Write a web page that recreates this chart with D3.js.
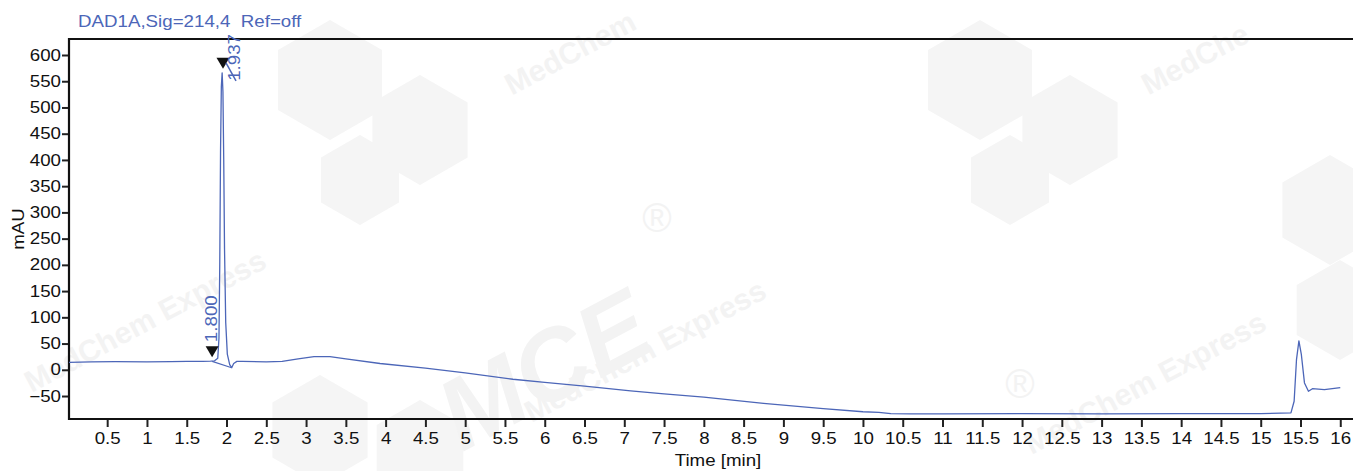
<!DOCTYPE html>
<html>
<head>
<meta charset="utf-8">
<script src="https://cdn.jsdelivr.net/npm/d3@7"></script>
<style>
  body { margin: 0; background: #fff; }
  svg text { font-family: "Liberation Sans", Arial, sans-serif; }
</style>
</head>
<body>
<div id="chart"></div>
<script>
// chromatogram trace (time in min, signal in mAU)
var times = [0.02, 0.3, 0.6, 1.0, 1.3, 1.5, 1.7, 1.8, 1.85, 1.89, 1.905, 1.915, 1.925, 1.935, 1.945,
  1.955, 1.965, 1.975, 1.99, 2.01, 2.04, 2.065, 2.09, 2.13, 2.2, 2.5, 2.7, 2.9, 3.1, 3.3, 3.5,
  3.93, 4.5, 5.0, 5.6, 6.0, 6.5, 7.08, 7.5, 8.0, 8.75, 9.5, 10.0, 10.2, 10.35, 10.6, 11, 12, 13,
  14, 15, 15.38, 15.42, 15.45, 15.48, 15.51, 15.55, 15.6, 15.65, 15.8, 16.0];
var signal = [14, 15, 15.5, 15, 15.5, 16, 16, 16.5, 17, 22, 60, 200, 420, 540, 566,
  530, 400, 230, 90, 30, 10, 4, 12, 16, 16, 15, 16, 21, 25, 25, 21,
  12, 3, -6, -18, -24, -31, -40, -46, -52, -64, -74, -80, -81, -83.5, -84, -84, -83.5, -84,
  -83.5, -83.5, -82, -60, 20, 55, 30, -25, -41, -36, -38, -34];

var peakTimes = [1.800, 1.937];
var peakLabels = ['1.800', '1.937'];
var peakHeights = [16.5, 566];
var baselineStart = [1.82, 16];
var baselineEnd = [2.065, 4];

var xTicks = d3.range(0.5, 16.01, 0.5);
var xTickLabels = xTicks.map(function (d) { return d3.format('~g')(d); });
var yTicks = d3.range(-50, 601, 50);

var W = 1353, H = 471;
var pl = 69, pr = 1353, pt = 39, pb = 419;
var blue = '#4c66b8';
var sx = 1.17; // the original text is drawn a bit wide

var svg = d3.select('#chart').append('svg')
  .attr('width', W)
  .attr('height', H);

// faint watermark
var wm = svg.append('g').attr('fill', '#f3f3f3');
function hex(cx, cy, r) {
  var pts = d3.range(6).map(function (i) {
    var a = Math.PI / 3 * i + Math.PI / 6;
    return [cx + r * Math.cos(a), cy + r * Math.sin(a)];
  });
  wm.append('path').attr('d', 'M' + pts.join('L') + 'Z').attr('fill', '#f5f5f5');
}
hex(330, 80, 60); hex(420, 130, 55); hex(360, 180, 45);
hex(980, 80, 60); hex(1070, 130, 55); hex(1010, 180, 45);
hex(1330, 210, 55); hex(1340, 310, 50);
hex(320, 430, 55); hex(420, 450, 50);
[[575, 62, 'MedChem'], [1200, 68, 'MedChe'], [150, 330, 'MedChem Express'],
 [650, 360, 'MedChem Express'], [1150, 392, 'MedChem Express']].forEach(function (d) {
  wm.append('text')
    .attr('transform', 'translate(' + d[0] + ',' + d[1] + ') rotate(-28)')
    .attr('text-anchor', 'middle')
    .style('font-size', '30px')
    .style('font-weight', 'bold')
    .text(d[2]);
});
wm.append('text')
  .attr('transform', 'translate(560,400) rotate(-28)')
  .attr('text-anchor', 'middle')
  .style('font-size', '100px')
  .style('font-weight', 'bold')
  .style('font-style', 'italic')
  .text('MCE');
[[657, 232], [1020, 398]].forEach(function (d) {
  wm.append('text').attr('x', d[0]).attr('y', d[1])
    .attr('text-anchor', 'middle')
    .style('font-size', '40px')
    .text('\u00AE');
});

var x = d3.scaleLinear().domain([0.02, 16.16]).range([pl, pr]);
var y = d3.scaleLinear().domain([-93.8, 630.5]).range([pb, pt]);

svg.append('defs').append('clipPath').attr('id', 'plotclip')
  .append('rect')
  .attr('x', pl).attr('y', pt)
  .attr('width', pr - pl).attr('height', pb - pt);

// axes
var xAxis = svg.append('g')
  .attr('transform', 'translate(0,' + pb + ')')
  .call(d3.axisBottom(x).tickValues(xTicks)
    .tickFormat(function (d, i) { return xTickLabels[i]; })
    .tickSize(8).tickPadding(6));
xAxis.select('.domain').remove();
xAxis.selectAll('line').attr('stroke', '#222').attr('stroke-width', 2);
xAxis.selectAll('text')
  .attr('fill', '#111')
  .style('font-size', '16px')
  .attr('transform', 'scale(' + sx + ',1)');

var yAxis = svg.append('g')
  .attr('transform', 'translate(' + pl + ',0)')
  .call(d3.axisLeft(y).tickValues(yTicks).tickSize(7).tickPadding(2));
yAxis.select('.domain').remove();
yAxis.selectAll('line').attr('stroke', '#222').attr('stroke-width', 2);
yAxis.selectAll('text')
  .attr('fill', '#111')
  .attr('x', -8 / sx)
  .style('font-size', '16px')
  .attr('transform', 'scale(' + sx + ',1)');

// frame: top, left and bottom
svg.append('path')
  .attr('d', 'M' + pr + ',' + pt + 'H' + pl + 'V' + pb + 'H' + pr)
  .attr('fill', 'none')
  .attr('stroke', '#111')
  .attr('stroke-width', 2.2);

var plot = svg.append('g').attr('clip-path', 'url(#plotclip)');

// integration baseline under the main peak
plot.append('line')
  .attr('x1', x(baselineStart[0])).attr('y1', y(baselineStart[1]))
  .attr('x2', x(baselineEnd[0])).attr('y2', y(baselineEnd[1]))
  .attr('stroke', blue)
  .attr('stroke-width', 1.1);

var line = d3.line()
  .x(function (d, i) { return x(times[i]); })
  .y(function (d) { return y(d); });

plot.append('path')
  .datum(signal)
  .attr('d', line)
  .attr('fill', 'none')
  .attr('stroke', blue)
  .attr('stroke-width', 1.3)
  .attr('stroke-linejoin', 'round');

// peak markers
var labelDx = [5, 17];
var marks = svg.append('g').selectAll('g')
  .data(peakTimes)
  .enter()
  .append('g')
  .attr('transform', function (d, i) {
    return 'translate(' + (x(d) + 1.5) + ',' + (y(peakHeights[i]) - 4) + ')';
  });

marks.append('path')
  .attr('d', 'M-6.5,-11L6.5,-11L0,0Z')
  .attr('fill', '#111');

marks.append('text')
  .attr('transform', function (d, i) {
    return 'translate(' + labelDx[i] + ',' + (i === 0 ? -15 : 12) + ') rotate(-90) scale(' + sx + ',1)';
  })
  .attr('fill', blue)
  .style('font-size', '16px')
  .text(function (d, i) { return peakLabels[i]; });

marks.filter(function (d, i) { return i === 1; })
  .append('line')
  .attr('x1', 3).attr('y1', -6)
  .attr('x2', 13).attr('y2', 12)
  .attr('stroke', blue)
  .attr('stroke-width', 1.5);

// titles
svg.append('text')
  .attr('transform', 'translate(78,27) scale(' + sx + ',1)')
  .attr('fill', blue)
  .style('font-size', '16px')
  .style('white-space', 'pre')
  .text('DAD1A,Sig=214,4  Ref=off');

svg.append('text')
  .attr('transform', 'translate(24,229) rotate(-90) scale(' + sx + ',1)')
  .attr('text-anchor', 'middle')
  .attr('fill', '#111')
  .style('font-size', '16px')
  .text('mAU');

svg.append('text')
  .attr('transform', 'translate(718,466) scale(' + sx + ',1)')
  .attr('text-anchor', 'middle')
  .attr('fill', '#111')
  .style('font-size', '16px')
  .text('Time [min]');
</script>
</body>
</html>
